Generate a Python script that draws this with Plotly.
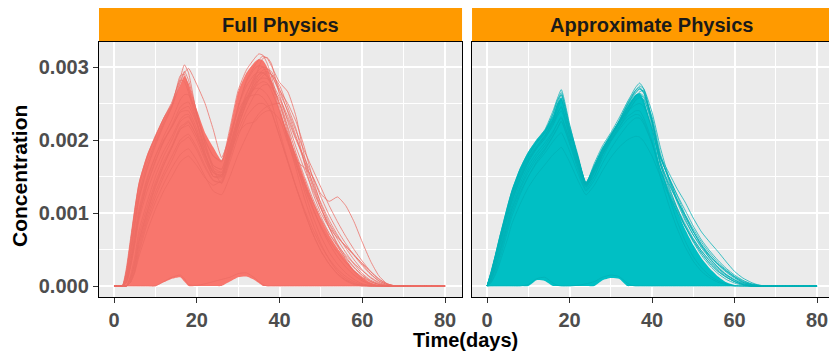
import plotly.graph_objects as go

# ---------------- data (concentration in units of 1e-5) ----------------
UNIT = 1e-5
DAYS = [0, 1, 2, 3, 4, 5, 6,
        8, 10, 12, 14, 16, 17, 18,
        20, 22, 24, 26, 28, 30, 32,
        34, 35, 36, 37, 38, 40, 42,
        44, 46, 48, 50, 52, 54, 56,
        58, 60, 62, 64, 66, 68, 70,
        75, 80]

PANELS = ["Full Physics", "Approximate Physics"]
X_TICKS = [0, 20, 40, 60, 80]
Y_TICKS = [0, 0.001, 0.002, 0.003]
Y_TICK_TEXT = ["0.000", "0.001", "0.002", "0.003"]

# ---- Full Physics: solid core of the run bundle (upper / lower edge) ----
FULL_DENSE = [0, 0, 0, 25, 65, 108, 142,
              180, 206, 230, 250, 276, 288, 278,
              242, 210, 190, 172, 214, 266, 292,
              307, 311, 309, 300, 284, 240, 210,
              180, 148, 118, 92, 70, 52, 36,
              22, 12, 5, 1, 0, 0, 0,
              0, 0]
FULL_FLOOR = [0, 0, 0, 0, 0, 0, 0,
              0, 0, 5, 10, 12, 6, 0,
              0, 0, 0, 0, 6, 12, 13,
              8, 4, 0, 0, 0, 0, 0,
              0, 0, 0, 0, 0, 0, 0,
              0, 0, 0, 0, 0, 0, 0,
              0, 0]
# ---- Full Physics: individual runs standing out of the bundle ----
FULL_RUN_A = [0, 0, 0, 20, 60, 100, 135, 175, 204, 230, 252, 285, 303, 292,
              235, 195, 160, 140, 170, 205, 232, 246, 250, 250, 246, 238, 205, 170,
              135, 102, 72, 48, 30, 17, 8, 3, 1, 0, 0, 0, 0, 0, 0, 0]
FULL_RUN_B = [0, 0, 0, 15, 50, 90, 125, 168, 198, 225, 248, 280, 294, 282,
              238, 200, 178, 172, 216, 268, 296, 312, 318, 316, 305, 288, 245, 200,
              160, 120, 86, 58, 36, 20, 10, 4, 1, 0, 0, 0, 0, 0, 0, 0]
FULL_RUN_C = [0, 0, 0, 10, 40, 80, 118, 160, 192, 220, 245, 278, 292, 298,
              276, 250, 214, 176, 206, 246, 274, 290, 293, 292, 286, 275, 250, 215,
              170, 130, 96, 68, 46, 30, 18, 9, 3, 1, 0, 0, 0, 0, 0, 0]
FULL_RUN_D = [0, 0, 0, 5, 30, 65, 100, 145, 178, 205, 228, 255, 262, 262,
              235, 195, 165, 160, 200, 245, 282, 302, 310, 315, 312, 302, 279, 266,
              232, 178, 140, 108, 80, 56, 36, 20, 9, 3, 1, 0, 0, 0, 0, 0]
FULL_RUN_E = [0, 0, 0, 5, 25, 55, 90, 130, 160, 185, 205, 228, 234, 235,
              210, 175, 150, 150, 185, 225, 255, 272, 277, 280, 278, 268, 240, 205,
              172, 162, 150, 126, 116, 122, 110, 88, 60, 34, 14, 3, 0, 0, 0, 0]
FULL_RUN_F = [0, 0, 0, 0, 15, 40, 75, 115, 150, 178, 200, 225, 230, 232,
              210, 180, 158, 155, 190, 228, 258, 280, 290, 296, 297, 294, 270, 238,
              205, 172, 142, 114, 90, 70, 52, 36, 22, 11, 4, 1, 0, 0, 0, 0]
FULL_RUN_G = [0, 0, 0, 0, 10, 30, 60, 100, 135, 165, 190, 215, 218, 220,
              200, 172, 150, 148, 182, 220, 252, 284, 300, 312, 313, 305, 262, 225,
              190, 160, 132, 106, 84, 64, 46, 30, 17, 8, 3, 0, 0, 0, 0, 0]
FULL_RUN_H = [0, 0, 0, 0, 5, 20, 45, 85, 115, 140, 162, 180, 185, 188,
              172, 150, 130, 125, 150, 180, 205, 228, 236, 242, 246, 248, 250, 218,
              182, 150, 120, 95, 72, 54, 38, 25, 14, 6, 2, 0, 0, 0, 0, 0]
FULL_RUN_I = [0, 0, 0, 25, 65, 105, 140, 178, 206, 230, 250, 282, 280, 265,
              225, 182, 150, 152, 192, 232, 258, 270, 271, 268, 262, 252, 212, 172,
              136, 102, 72, 48, 30, 16, 7, 2, 0, 0, 0, 0, 0, 0, 0, 0]
FULL_RUN_J = [0, 0, 0, 0, 5, 18, 40, 75, 105, 130, 150, 170, 175, 178,
              165, 148, 138, 145, 180, 220, 250, 272, 282, 288, 292, 290, 275, 245,
              215, 168, 128, 100, 80, 66, 55, 43, 30, 17, 7, 2, 0, 0, 0, 0]
FULL_RUN_K = [0, 0, 0, 12, 45, 85, 120, 162, 195, 222, 246, 288, 290, 270,
              232, 200, 178, 170, 205, 240, 258, 262, 262, 258, 250, 240, 205, 170,
              135, 105, 78, 55, 37, 23, 13, 6, 2, 0, 0, 0, 0, 0, 0, 0]
FULL_RUN_L = [0, 0, 0, 0, 8, 25, 55, 95, 128, 155, 178, 200, 205, 208,
              190, 165, 145, 142, 175, 212, 240, 262, 270, 275, 276, 272, 255, 228,
              200, 176, 150, 122, 97, 76, 58, 42, 28, 16, 7, 2, 0, 0, 0, 0]
FULL_RUN_M = [0, 0, 0, 8, 35, 70, 105, 148, 178, 200, 218, 238, 240, 240,
              215, 182, 155, 150, 180, 210, 222, 225, 232, 237, 240, 240, 228, 196,
              165, 135, 106, 82, 62, 46, 32, 21, 12, 6, 2, 0, 0, 0, 0, 0]
FULL_RUN_N = [0, 0, 0, 0, 12, 35, 68, 108, 142, 170, 192, 218, 222, 226,
              205, 178, 155, 152, 186, 225, 255, 276, 282, 285, 284, 280, 240, 200,
              168, 140, 115, 92, 72, 56, 42, 31, 21, 12, 5, 1, 0, 0, 0, 0]
FULL_RUN_O = [0, 0, 0, 5, 28, 60, 95, 138, 170, 198, 220, 245, 250, 252,
              225, 190, 165, 160, 198, 245, 280, 298, 302, 300, 290, 278, 250, 210,
              175, 140, 108, 80, 58, 40, 26, 15, 7, 2, 0, 0, 0, 0, 0, 0]
FULL_RUN_P = [0, 0, 0, 0, 10, 30, 62, 102, 138, 166, 190, 214, 220, 224,
              205, 178, 156, 152, 188, 228, 262, 288, 296, 300, 298, 290, 265, 240,
              212, 185, 160, 135, 110, 88, 68, 50, 34, 20, 9, 3, 0, 0, 0, 0]
FULL_RUN_Q = [0, 0, 0, 6, 30, 62, 96, 140, 172, 198, 218, 240, 244, 246,
              222, 188, 162, 156, 192, 232, 264, 284, 290, 292, 288, 280, 258, 232,
              202, 170, 136, 106, 80, 58, 40, 26, 15, 7, 2, 0, 0, 0, 0, 0]
FULL_RUN_R = [0, 0, 0, 0, 6, 22, 50, 90, 122, 150, 172, 196, 200, 204,
              186, 162, 144, 142, 178, 218, 250, 276, 286, 292, 294, 290, 268, 250,
              225, 190, 148, 112, 86, 68, 54, 42, 31, 20, 10, 3, 0, 0, 0, 0]
FULL_LOW_RUN = [0, 0, 0, 0, 0, 0, 0, 0, 0, 6, 12, 15, 10, 2,
                1, 3, 6, 9, 12, 17, 18, 11, 6, 2, 0, 0, 0, 0,
                0, 0, 0, 0, 0, 0, 0, 0, 0, 0, 0, 0, 0, 0, 0, 0]

# ---- Approximate Physics ----
APPROX_DENSE = [0, 20, 43, 67, 90, 112, 132,
                162, 184, 200, 214, 234, 250, 258,
                216, 178, 142, 166, 190, 208, 226,
                246, 255, 262, 264, 255, 215, 162,
                130, 104, 78, 56, 38, 24, 13,
                5, 1, 0, 0, 0, 0, 0,
                0, 0]
APPROX_FLOOR = [0, 0, 0, 0, 0, 0, 0,
                0, 0, 8, 7, 0, 0, 0,
                0, 0, 0, 0, 8, 11, 10,
                0, 0, 0, 0, 0, 0, 0,
                0, 0, 0, 0, 0, 0, 0,
                0, 0, 0, 0, 0, 0, 0,
                0, 0]
APPROX_RUN_A = [0, 20, 42, 66, 88, 110, 130, 160, 183, 200, 214, 240, 256, 269,
                222, 176, 140, 150, 180, 205, 225, 238, 244, 248, 250, 246, 215, 168,
                125, 90, 62, 40, 25, 14, 7, 3, 1, 0, 0, 0, 0, 0, 0, 0]
APPROX_RUN_B = [0, 18, 40, 62, 84, 105, 125, 155, 178, 196, 210, 228, 240, 255,
                214, 176, 141, 168, 192, 210, 230, 252, 262, 272, 278, 270, 225, 172,
                138, 108, 82, 60, 42, 28, 17, 9, 4, 1, 0, 0, 0, 0, 0, 0]
APPROX_RUN_C = [0, 15, 35, 58, 80, 100, 120, 150, 173, 190, 205, 228, 248, 262,
                218, 178, 142, 165, 188, 205, 222, 242, 252, 260, 266, 268, 228, 176,
                150, 125, 98, 75, 55, 38, 25, 15, 8, 3, 1, 0, 0, 0, 0, 0]
APPROX_RUN_D = [0, 10, 28, 48, 70, 90, 110, 140, 165, 182, 196, 212, 222, 230,
                200, 165, 135, 155, 180, 200, 218, 238, 246, 254, 258, 255, 226, 178,
                156, 134, 115, 93, 74, 60, 47, 33, 20, 11, 5, 1, 0, 0, 0, 0]
APPROX_RUN_E = [0, 12, 30, 52, 74, 95, 115, 145, 170, 188, 202, 220, 232, 240,
                205, 170, 138, 160, 185, 205, 224, 246, 256, 264, 270, 266, 222, 168,
                135, 108, 85, 65, 48, 34, 22, 13, 6, 2, 0, 0, 0, 0, 0, 0]
APPROX_RUN_F = [0, 8, 22, 40, 60, 80, 100, 128, 150, 168, 182, 198, 205, 210,
                185, 155, 130, 145, 168, 188, 205, 220, 226, 230, 230, 222, 195, 160,
                130, 105, 82, 62, 45, 31, 20, 12, 6, 2, 0, 0, 0, 0, 0, 0]
APPROX_RUN_G = [0, 20, 42, 65, 86, 108, 128, 158, 180, 198, 212, 236, 252, 265,
                220, 180, 140, 160, 182, 200, 218, 232, 236, 240, 240, 230, 198, 150,
                112, 80, 54, 34, 20, 11, 5, 2, 0, 0, 0, 0, 0, 0, 0, 0]
APPROX_RUN_H = [0, 5, 18, 35, 55, 75, 95, 125, 150, 170, 186, 205, 215, 225,
                195, 160, 132, 150, 175, 198, 216, 236, 246, 255, 260, 250, 215, 170,
                142, 118, 95, 74, 56, 41, 29, 19, 11, 5, 2, 0, 0, 0, 0, 0]
APPROX_RUN_I = [0, 5, 15, 30, 48, 65, 85, 112, 135, 152, 166, 180, 185, 190,
                170, 145, 125, 138, 158, 176, 190, 200, 203, 205, 204, 198, 178, 150,
                125, 102, 82, 64, 48, 35, 24, 15, 8, 3, 1, 0, 0, 0, 0, 0]
APPROX_RUN_J = [0, 14, 34, 56, 78, 98, 118, 148, 172, 190, 205, 224, 236, 245,
                210, 174, 140, 164, 188, 208, 226, 248, 258, 268, 272, 265, 228, 178,
                148, 120, 96, 75, 57, 42, 30, 20, 12, 5, 2, 0, 0, 0, 0, 0]
APPROX_RUN_K = [0, 18, 40, 62, 84, 106, 126, 156, 178, 196, 210, 236, 254, 262,
                216, 176, 138, 158, 180, 198, 214, 228, 232, 235, 234, 225, 196, 160,
                132, 106, 82, 62, 45, 31, 20, 12, 6, 2, 0, 0, 0, 0, 0, 0]
APPROX_RUN_L = [0, 10, 25, 45, 66, 86, 106, 135, 160, 178, 192, 210, 222, 232,
                200, 168, 138, 158, 182, 204, 226, 250, 260, 268, 274, 270, 238, 190,
                150, 120, 92, 70, 52, 38, 26, 16, 9, 4, 1, 0, 0, 0, 0, 0]
APPROX_RUN_M = [0, 12, 32, 55, 76, 96, 116, 146, 170, 188, 202, 222, 235, 246,
                206, 172, 139, 162, 186, 206, 226, 248, 258, 266, 270, 264, 224, 176,
                150, 126, 104, 82, 63, 48, 35, 24, 15, 8, 3, 1, 0, 0, 0, 0]
APPROX_RUN_N = [0, 8, 24, 44, 64, 84, 104, 132, 156, 174, 188, 206, 216, 226,
                196, 164, 136, 156, 180, 202, 222, 244, 252, 260, 264, 260, 232, 182,
                146, 116, 90, 70, 54, 41, 30, 21, 13, 7, 3, 1, 0, 0, 0, 0]
APPROX_RUN_O = [0, 16, 38, 60, 82, 102, 122, 152, 175, 192, 206, 226, 244, 258,
                214, 176, 140, 162, 184, 204, 222, 240, 250, 258, 262, 258, 218, 166,
                140, 118, 98, 78, 60, 45, 32, 22, 13, 6, 2, 0, 0, 0, 0, 0]
APPROX_LOW_RUN = [0, 0, 0, 0, 0, 0, 0, 0, 2, 10, 12, 4, 1, 0,
                  0, 1, 3, 6, 12, 15, 13, 4, 1, 0, 0, 0, 0, 0,
                  0, 0, 0, 0, 0, 0, 0, 0, 0, 0, 0, 0, 0, 0, 0, 0]

FULL_RUNS = [FULL_RUN_A, FULL_RUN_B, FULL_RUN_C, FULL_RUN_D, FULL_RUN_E, FULL_RUN_F,
             FULL_RUN_G, FULL_RUN_H, FULL_RUN_I, FULL_RUN_J, FULL_RUN_K, FULL_RUN_L,
             FULL_RUN_M, FULL_RUN_N, FULL_RUN_O, FULL_RUN_P, FULL_RUN_Q, FULL_RUN_R,
             FULL_LOW_RUN]
APPROX_RUNS = [APPROX_RUN_A, APPROX_RUN_B, APPROX_RUN_C, APPROX_RUN_D, APPROX_RUN_E,
               APPROX_RUN_F, APPROX_RUN_G, APPROX_RUN_H, APPROX_RUN_I, APPROX_RUN_J,
               APPROX_RUN_K, APPROX_RUN_L, APPROX_RUN_M, APPROX_RUN_N, APPROX_RUN_O,
               APPROX_LOW_RUN]

# ---------------- styling ----------------
FONT = "Liberation Sans"
RED = "#F8766D"
RED_LINE = "rgba(236,108,100,0.75)"
TEAL = "#00BFC4"
TEAL_LINE = "rgba(0,176,182,0.75)"
STRIP = "#FF9A00"


def scaled(vals):
    return [v * UNIT for v in vals]


fig = go.Figure()

panel_specs = [
    ("x", "y", FULL_DENSE, FULL_FLOOR, FULL_RUNS, RED, RED_LINE),
    ("x2", "y2", APPROX_DENSE, APPROX_FLOOR, APPROX_RUNS, TEAL, TEAL_LINE),
]
for xa, ya, dense, floor, runs, col, lcol in panel_specs:
    fig.add_trace(go.Scatter(
        x=DAYS + DAYS[::-1], y=scaled(dense + floor[::-1]),
        fill="toself", fillcolor=col, mode="lines",
        line=dict(width=0, shape="spline", smoothing=0.5),
        hoverinfo="skip", xaxis=xa, yaxis=ya))
    for run in runs:
        fig.add_trace(go.Scatter(
            x=DAYS, y=scaled(run), mode="lines",
            line=dict(color=lcol, width=1, shape="spline", smoothing=0.5),
            hoverinfo="skip", xaxis=xa, yaxis=ya))

tickfont = dict(family=FONT, size=20, color="#4D4D4D", weight="bold")
YDOM = [0, 0.88235]
YRANGE = [-0.0001507, 0.0033425]

common_x = dict(
    tickvals=X_TICKS, ticktext=[str(t) for t in X_TICKS],
    ticks="outside", ticklen=5, tickwidth=1.2, tickcolor="#333333",
    tickfont=tickfont, showgrid=True, gridcolor="white", gridwidth=1.6,
    minor=dict(tickvals=[10, 30, 50, 70], showgrid=True, gridcolor="white",
               gridwidth=0.8, ticks=""),
    showline=True, linecolor="black", linewidth=1.4, mirror=True, zeroline=False,
    automargin=False)
common_y = dict(
    domain=YDOM, range=YRANGE, tickvals=Y_TICKS, ticktext=Y_TICK_TEXT,
    showgrid=True, gridcolor="white", gridwidth=1.6,
    minor=dict(tickvals=[0.0005, 0.0015, 0.0025], showgrid=True, gridcolor="white",
               gridwidth=0.8, ticks=""),
    showline=True, linecolor="black", linewidth=1.4, zeroline=False,
    automargin=False)

fig.update_layout(
    width=829, height=353,
    margin=dict(l=99, r=0, t=8, b=56, autoexpand=False),
    paper_bgcolor="white", plot_bgcolor="#EBEBEB",
    showlegend=False,
    xaxis=dict(domain=[0, 0.4973], range=[-3.63, 84.1], anchor="y", **common_x),
    xaxis2=dict(domain=[0.511, 1.0], range=[-3.64, 82.9], anchor="y2", **common_x),
    yaxis=dict(anchor="x", ticks="outside", ticklen=5, tickwidth=1.2,
               tickcolor="#333333", tickfont=tickfont, mirror=True, **common_y),
    yaxis2=dict(anchor="x2", ticks="", showticklabels=False, mirror=False, **common_y),
)

# facet strips
strips = [(0, 0.4973, PANELS[0], 0.24863), (0.511, 1.0, PANELS[1], 0.7575)]
for x0, x1, label, xc in strips:
    fig.add_shape(type="rect", xref="paper", yref="paper", x0=x0, x1=x1,
                  y0=YDOM[1], y1=1.0, fillcolor=STRIP, line=dict(width=0), layer="below")
    fig.add_annotation(text=label, xref="paper", yref="paper", x=xc, y=0.9412,
                       showarrow=False, xanchor="center", yanchor="middle",
                       font=dict(family=FONT, size=20, color="#1A1A1A", weight="bold"))

# axis titles
fig.add_annotation(text="Concentration", xref="paper", yref="paper",
                   x=-0.1082, y=0.4187, textangle=-90, showarrow=False,
                   xanchor="center", yanchor="middle",
                   font=dict(family=FONT, size=21, color="black", weight="bold"))
fig.add_annotation(text="Time(days)", xref="paper", yref="paper",
                   x=0.5027, y=-0.1505, showarrow=False,
                   xanchor="center", yanchor="middle",
                   font=dict(family=FONT, size=20, color="black", weight="bold"))

fig.write_html("out.html",
               config={"displayModeBar": False},
               post_script="document.body.style.margin='0px';document.body.style.padding='0px';")
